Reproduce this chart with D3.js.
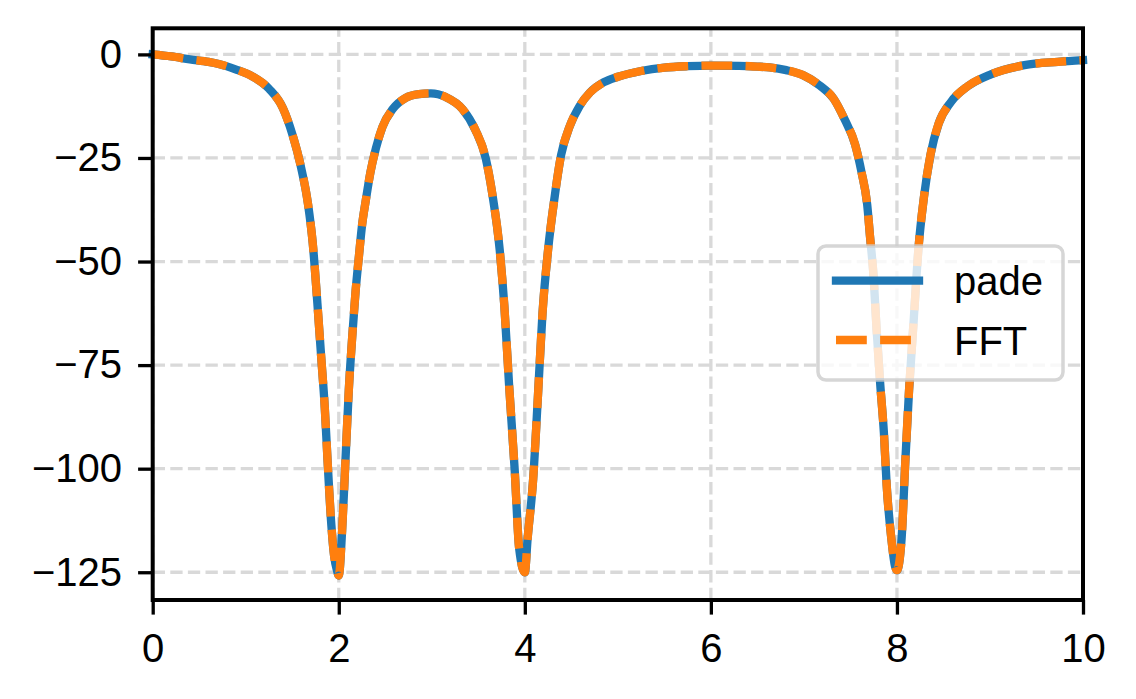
<!DOCTYPE html>
<html>
<head>
<meta charset="utf-8">
<script src="https://cdn.jsdelivr.net/npm/d3@7"></script>
<style>
  html, body { margin: 0; padding: 0; background: #fff; }
  svg { display: block; }
  text { font-family: "Liberation Sans", Arial, Helvetica, sans-serif; }
</style>
</head>
<body>
<svg id="chart" width="1136" height="699"></svg>
<script>
// ---- data ----
const xValues = [0.00, 0.20, 0.40, 0.60, 0.71, 0.89, 1.07, 1.25, 1.40, 1.50, 1.59, 1.67, 1.72, 1.77, 1.81, 1.85, 1.88, 1.92, 1.95, 1.98, 2.00,
  2.036, 2.072, 2.108, 2.144, 2.18, 2.216, 2.25, 2.29, 2.34, 2.40, 2.47, 2.58, 2.72, 2.86, 2.99, 3.15, 3.33, 3.47, 3.58, 3.65, 3.73, 3.78, 3.83, 3.89, 3.94, 4.00,
  4.03, 4.09, 4.14, 4.19, 4.25, 4.32, 4.39, 4.48, 4.59, 4.70, 4.85, 5.00, 5.25, 5.50, 5.75, 6.00, 6.30, 6.50, 6.63, 6.81, 6.99, 7.17, 7.32, 7.44, 7.55, 7.62, 7.68,
  7.71, 7.75, 7.78, 7.82, 7.86, 7.89, 7.94, 7.98, 8.00, 8.05, 8.09, 8.13, 8.18, 8.23, 8.29, 8.36, 8.45, 8.58, 8.76, 9.01, 9.37, 9.73, 10.00];
const padeValues = [0, -0.5, -1.2, -1.8, -2.3, -3.6, -5.3, -8.3, -13.0, -19.2, -26.8, -36.2, -45.5, -60, -72.7, -85.4, -98.2, -113.5, -121, -124.5, -125.8,
  -115, -98, -81, -68.4, -57.4, -48.9, -41.3, -35.3, -28.5, -22.6, -17.5, -13.2, -10.5, -9.6, -9.4, -10.3, -13.2, -18.3, -25.1, -33.6, -47.2, -60.8, -79.5, -99.9, -119.4, -125,
  -116.9, -102.4, -82.9, -62.5, -47.2, -34.5, -24.3, -17.5, -12.4, -9.2, -6.7, -5.4, -4.0, -3.2, -2.85, -2.7, -2.75, -2.95, -3.15, -3.8, -5.0, -7.5, -10.7, -15.8, -21.7, -28.5, -36.2,
  -43.8, -54, -65.9, -79.5, -91.4, -104.1, -116.9, -123.6, -124.5, -116.9, -98.2, -81.2, -64.2, -47.2, -34.5, -24.3, -16.6, -11.5, -7.7, -4.8, -2.6, -1.8, -1.4];
const fftValues = [0, -0.5, -1.2, -1.8, -2.3, -3.6, -5.3, -8.3, -13.0, -19.2, -26.8, -36.2, -45.5, -60, -72.7, -85.4, -98.2, -113.5, -121, -124.5, -125.8,
  -115, -98, -81, -68.4, -57.4, -48.9, -41.3, -35.3, -28.5, -22.6, -17.5, -13.2, -10.5, -9.6, -9.4, -10.3, -13.2, -18.3, -25.1, -33.6, -47.2, -60.8, -79.5, -99.9, -119.4, -125,
  -116.9, -102.4, -82.9, -62.5, -47.2, -34.5, -24.3, -17.5, -12.4, -9.2, -6.7, -5.4, -4.0, -3.2, -2.85, -2.7, -2.75, -2.95, -3.15, -3.8, -5.0, -7.5, -10.7, -15.8, -21.7, -28.5, -36.2,
  -43.8, -54, -65.9, -79.5, -91.4, -104.1, -116.9, -123.6, -124.5, -116.9, -98.2, -81.2, -64.2, -47.2, -34.5, -24.3, -16.6, -11.5, -7.7, -4.8, -2.6, -1.8, -1.4];
const seriesNames = ["pade", "FFT"];
const xTicks = [0, 2, 4, 6, 8, 10];
const yTicks = [0, -25, -50, -75, -100, -125];

// ---- layout ----
const plot = { left: 152.7, right: 1083, top: 28.3, bottom: 600 };
const lw = 8.33;
const fontPx = 40;
const blue = "#1f77b4", orange = "#ff7f0e";

const svg = d3.select("#chart");
svg.append("rect").attr("width", 1136).attr("height", 699).attr("fill", "#fff");

const x = d3.scaleLinear().domain([0, 10]).range([plot.left, plot.right]);
const y = d3.scaleLinear().domain([-131.7, 6.3]).range([plot.bottom, plot.top]);

// grid
const grid = svg.append("g").attr("stroke", "#d9d9d9").attr("stroke-width", 3.3)
  .attr("stroke-dasharray", "12.3 5.3").attr("fill", "none");
yTicks.forEach(v => {
  grid.append("line").attr("x1", plot.left).attr("x2", plot.right)
    .attr("y1", y(v)).attr("y2", y(v));
});
xTicks.forEach(v => {
  grid.append("line").attr("x1", x(v)).attr("x2", x(v))
    .attr("y1", plot.bottom).attr("y2", plot.top);
});

// lines
const pts = (vals) => xValues.map((xv, i) => [xv, vals[i]]);
const line = d3.line().x(d => x(d[0])).y(d => y(d[1])).curve(d3.curveMonotoneX);

svg.append("path").datum(pts(padeValues)).attr("d", line)
  .attr("fill", "none").attr("stroke", blue).attr("stroke-width", lw)
  .attr("stroke-linejoin", "round").attr("stroke-linecap", "square");
svg.append("path").datum(pts(fftValues)).attr("d", line)
  .attr("fill", "none").attr("stroke", orange).attr("stroke-width", lw)
  .attr("stroke-linejoin", "round").attr("stroke-linecap", "butt")
  .attr("stroke-dasharray", "30.8 13.3");

// axes
const tickLen = 14.6;
const yAxis = d3.axisLeft(y).tickValues(yTicks).tickSize(tickLen).tickPadding(16)
  .tickFormat(d => d3.format("d")(d));
const gy = svg.append("g").attr("transform", `translate(${plot.left},0)`).call(yAxis);
const xAxis = d3.axisBottom(x).tickValues(xTicks).tickSize(tickLen).tickPadding(19.4)
  .tickFormat(d3.format("d"));
const gx = svg.append("g").attr("transform", `translate(0,${plot.bottom})`).call(xAxis);
[gx, gy].forEach(g => {
  g.select(".domain").remove();
  g.selectAll(".tick line").attr("stroke", "#000").attr("stroke-width", 3.3);
  g.selectAll(".tick text").attr("fill", "#000").style("font-size", fontPx + "px")
    .style("font-family", '"Liberation Sans", Arial, Helvetica, sans-serif');
});

// spines
svg.append("rect").attr("x", plot.left).attr("y", plot.top)
  .attr("width", plot.right - plot.left).attr("height", plot.bottom - plot.top)
  .attr("fill", "none").attr("stroke", "#000").attr("stroke-width", 4)
  .attr("stroke-linejoin", "miter");

// legend
const leg = svg.append("g");
leg.append("rect").attr("x", 818).attr("y", 246).attr("width", 245).attr("height", 134)
  .attr("rx", 8).attr("ry", 8)
  .attr("fill", "#fff").attr("fill-opacity", 0.8)
  .attr("stroke", "#cccccc").attr("stroke-opacity", 0.8).attr("stroke-width", 3.5);
const legRows = [
  { name: seriesNames[0], color: blue, dash: null, cap: "square", yl: 280.7, yt: 295 },
  { name: seriesNames[1], color: orange, dash: "30.8 13.3", cap: "butt", yl: 340, yt: 355 }
];
legRows.forEach(r => {
  const l = leg.append("line").attr("x1", 836).attr("x2", 919).attr("y1", r.yl).attr("y2", r.yl)
    .attr("stroke", r.color).attr("stroke-width", lw).attr("stroke-linecap", r.cap);
  if (r.dash) l.attr("stroke-dasharray", r.dash);
  leg.append("text").attr("x", 954).attr("y", r.yt).attr("fill", "#000")
    .style("font-size", fontPx + "px").text(r.name);
});
</script>
</body>
</html>
